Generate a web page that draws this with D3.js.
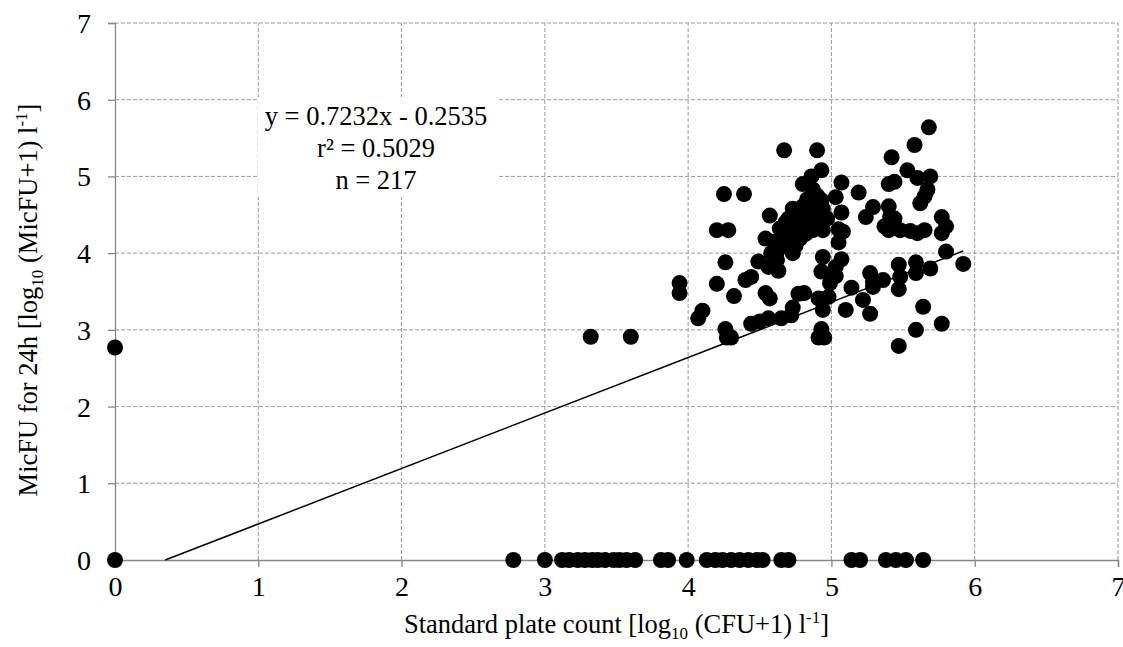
<!DOCTYPE html>
<html>
<head>
<meta charset="utf-8">
<script src="https://cdn.jsdelivr.net/npm/d3@7"></script>
<style>
  body { margin: 0; background: #fff; }
  svg text { font-family: "Liberation Serif", "Times New Roman", serif; fill: #000; }
</style>
</head>
<body>
<svg id="chart"></svg>
<script>
// standard plate count (x) and MicFU for 24h (y)
const clusterX = [
    4.67, 4.90, 4.93, 4.86, 4.80, 4.87, 5.07, 5.19, 5.03, 4.93, 4.25, 4.39, 5.29, 5.24,
    5.07, 4.94, 4.80, 4.73, 4.57, 4.70, 4.78, 4.94, 4.20, 4.28, 4.64, 4.73, 4.87, 4.94,
    5.05, 5.08, 4.54, 4.69, 4.78, 4.64, 5.05, 4.58, 4.73, 4.62, 4.26, 4.49, 4.94, 5.07,
    4.56, 4.63, 4.93, 5.03, 5.03, 5.27, 5.29, 4.40, 4.44, 4.20, 3.94, 3.94, 4.99, 5.14,
    4.32, 4.54, 4.57, 4.77, 4.81, 4.91, 4.98, 5.22, 4.10, 4.07, 4.73, 4.72, 4.94, 5.10,
    5.27, 4.44, 4.50, 4.56, 4.65, 4.26, 4.27, 4.30, 4.93, 4.91, 4.95,
    5.68, 5.58, 5.42, 5.53, 5.60, 5.69, 5.40, 5.44, 5.67, 5.65, 5.62, 5.40, 5.41, 5.44,
    5.37, 5.40, 5.48, 5.55, 5.60, 5.65, 5.77, 5.80, 5.77, 5.80, 5.92, 5.29, 5.36, 5.47,
    5.48, 5.47, 5.59, 5.59, 5.69, 5.64, 5.59, 5.77, 5.47,
    3.32, 3.60, 0.00,
    4.68, 4.75, 4.83, 4.85, 4.66, 4.72, 4.60, 4.68, 4.75, 4.62, 4.85, 4.88, 4.83, 4.90,
    4.90, 4.97, 4.76, 4.82
];
const clusterY = [
    5.34, 5.34, 5.08, 5.00, 4.90, 4.83, 4.92, 4.79, 4.73, 4.69, 4.77, 4.77, 4.60, 4.47,
    4.53, 4.58, 4.61, 4.58, 4.49, 4.45, 4.48, 4.44, 4.30, 4.30, 4.32, 4.35, 4.30, 4.30,
    4.31, 4.28, 4.19, 4.22, 4.19, 4.08, 4.14, 4.00, 4.00, 3.91, 3.88, 3.89, 3.95, 3.92,
    3.82, 3.77, 3.76, 3.82, 3.70, 3.74, 3.63, 3.65, 3.69, 3.60, 3.61, 3.48, 3.61, 3.55,
    3.44, 3.48, 3.41, 3.47, 3.48, 3.41, 3.43, 3.39, 3.25, 3.15, 3.29, 3.19, 3.26, 3.26,
    3.21, 3.08, 3.11, 3.15, 3.15, 3.01, 2.90, 2.90, 3.01, 2.90, 2.90,
    5.64, 5.41, 5.25, 5.08, 4.98, 5.00, 4.90, 4.93, 4.83, 4.74, 4.65, 4.61, 4.48, 4.45,
    4.35, 4.30, 4.30, 4.29, 4.26, 4.30, 4.47, 4.35, 4.26, 4.02, 3.86, 3.56, 3.65, 3.85,
    3.69, 3.53, 3.88, 3.74, 3.80, 3.30, 3.00, 3.08, 2.79,
    2.91, 2.91, 2.77,
    4.40, 4.42, 4.38, 4.45, 4.25, 4.28, 4.15, 4.12, 4.10, 4.02, 4.55, 4.62, 4.70, 4.75,
    4.50, 4.45, 4.30, 4.25
];
// samples with no MicFU growth (y = 0)
const zeroRowX = [
    0.00, 2.78, 3.00, 3.12, 3.17, 3.23, 3.28, 3.33, 3.37, 3.42, 3.48, 3.52, 3.57, 3.63,
    3.81, 3.86, 3.99, 4.13, 4.19, 4.24, 4.30, 4.36, 4.42, 4.48, 4.52, 4.65, 4.70,
    5.14, 5.20, 5.38, 5.45, 5.52, 5.64
];
const ticks = [0, 1, 2, 3, 4, 5, 6, 7];
const slope = 0.7232, intercept = -0.2535;
const statLines = ["y = 0.7232x - 0.2535", "r² = 0.5029", "n = 217"];

const points = clusterX.map((x, i) => ({ x: x, y: clusterY[i] }))
    .concat(zeroRowX.map(x => ({ x: x, y: 0 })));

const width = 1123, height = 647;
const margin = { top: 23, left: 115 };
const innerW = 1003, innerH = 537;

const svg = d3.select('#chart')
    .attr('width', width)
    .attr('height', height);

const chart = svg.append('g')
    .attr('transform', `translate(${margin.left}, ${margin.top})`);

const xscale = d3.scaleLinear().domain([0, 7]).range([0, innerW]);
const yscale = d3.scaleLinear().domain([0, 7]).range([innerH, 0]);

// grid
chart.append('g').selectAll('line')
    .data(ticks.slice(1)).enter().append('line')
    .attr('x1', d => xscale(d)).attr('x2', d => xscale(d))
    .attr('y1', yscale(0)).attr('y2', yscale(7))
    .attr('stroke', '#9a9a9a').attr('stroke-dasharray', '4,2');
chart.append('g').selectAll('line')
    .data(ticks.slice(1)).enter().append('line')
    .attr('x1', xscale(0)).attr('x2', xscale(7))
    .attr('y1', d => yscale(d)).attr('y2', d => yscale(d))
    .attr('stroke', '#9a9a9a').attr('stroke-dasharray', '4,2');

// white box behind the fit statistics
chart.append('rect')
    .attr('x', 143).attr('y', 74)
    .attr('width', 239).attr('height', 100)
    .attr('fill', '#fff');

const xaxis = d3.axisBottom(xscale).tickValues(ticks).tickFormat(d3.format('d'))
    .tickSize(7).tickPadding(9);
const yaxis = d3.axisLeft(yscale).tickValues(ticks).tickFormat(d3.format('d'))
    .tickSize(7).tickPadding(17);

const xg = chart.append('g')
    .attr('transform', `translate(0, ${yscale(0)})`)
    .call(xaxis);
const yg = chart.append('g').call(yaxis);

[xg, yg].forEach(g => {
    g.select('.domain').attr('stroke', '#868686').attr('stroke-width', 1.3);
    g.selectAll('.tick line').attr('stroke', '#868686').attr('stroke-width', 1.3);
    g.selectAll('.tick text')
        .attr('font-size', 28)
        .attr('fill', '#000');
});
yg.selectAll('.tick text').attr('dy', '0.34em');

// regression line
const fitX0 = -intercept / slope;
const fitX1 = d3.max(points, d => d.x);
chart.append('line')
    .attr('x1', xscale(fitX0)).attr('y1', yscale(slope * fitX0 + intercept))
    .attr('x2', xscale(fitX1)).attr('y2', yscale(slope * fitX1 + intercept))
    .attr('stroke', '#000').attr('stroke-width', 1.5);

// points
chart.append('g').selectAll('circle')
    .data(points).enter().append('circle')
    .attr('cx', d => xscale(d.x))
    .attr('cy', d => yscale(d.y))
    .attr('r', 8)
    .attr('fill', '#000');

// statistics text
chart.append('text')
    .attr('x', 261).attr('y', 102)
    .attr('text-anchor', 'middle')
    .attr('font-size', 26.5)
    .selectAll('tspan')
    .data(statLines).enter().append('tspan')
    .attr('x', 261)
    .attr('dy', (d, i) => i === 0 ? 0 : 32)
    .text(d => d);

// axis titles
const xt = svg.append('text')
    .attr('x', margin.left + xscale(3.5)).attr('y', 633)
    .attr('text-anchor', 'middle')
    .attr('font-size', 26.5);
xt.append('tspan').text('Standard plate count [log');
xt.append('tspan').attr('font-size', 17).attr('dy', 6).text('10');
xt.append('tspan').attr('dy', -6).text(' (CFU+1) l');
xt.append('tspan').attr('font-size', 17).attr('dy', -10).text('-1');
xt.append('tspan').attr('dy', 10).text(']');

const yt = svg.append('text')
    .attr('transform', 'translate(37, 300) rotate(-90)')
    .attr('text-anchor', 'middle')
    .attr('font-size', 26.5);
yt.append('tspan').text('MicFU for 24h [log');
yt.append('tspan').attr('font-size', 17).attr('dy', 6).text('10');
yt.append('tspan').attr('dy', -6).text(' (MicFU+1) l');
yt.append('tspan').attr('font-size', 17).attr('dy', -10).text('-1');
yt.append('tspan').attr('dy', 10).text(']');
</script>
</body>
</html>
